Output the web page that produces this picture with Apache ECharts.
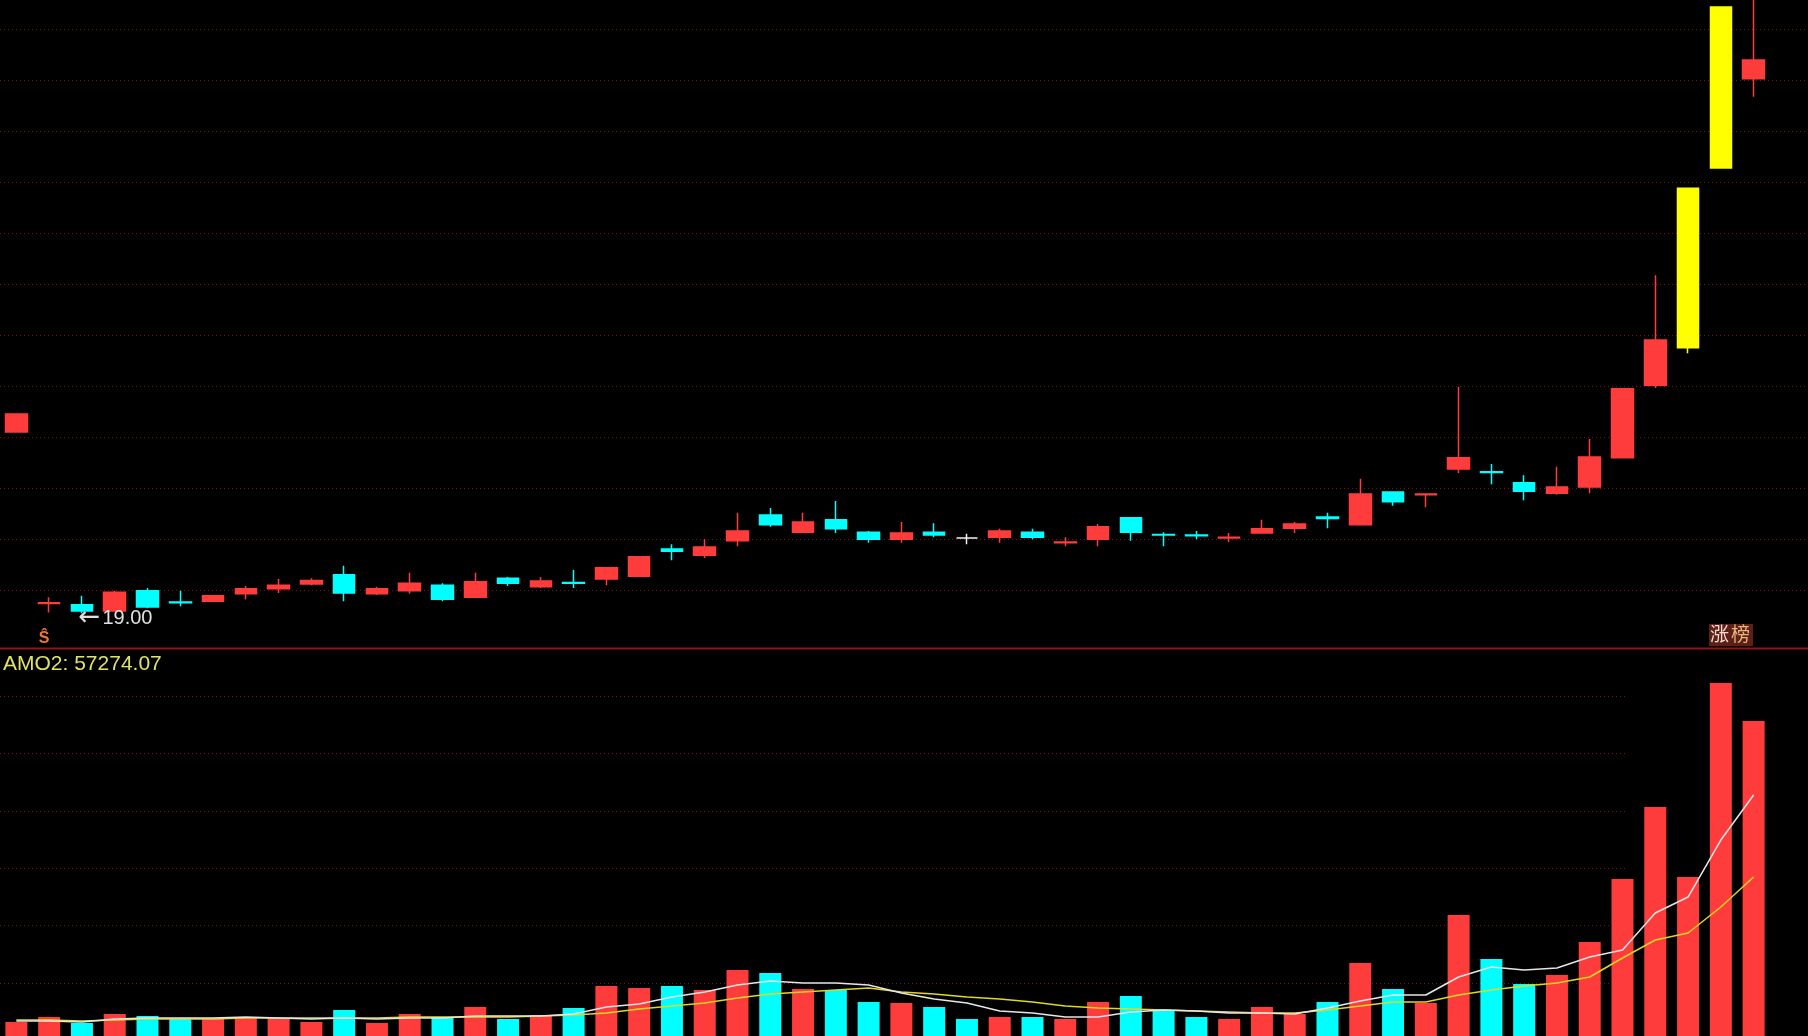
<!DOCTYPE html>
<html><head><meta charset="utf-8">
<script src="https://cdn.jsdelivr.net/npm/echarts@6/dist/echarts.min.js"></script>
<style>html,body{margin:0;padding:0;background:#000;overflow:hidden}#c{width:1808px;height:1036px}</style>
</head><body><div id="c"></div><script>
const categories = ['01','02','03','04','05','06','07','08','09','10','11','12','13','14','15','16','17','18','19','20','21','22','23','24','25','26','27','28','29','30','31','32','33','34','35','36','37','38','39','40','41','42','43','44','45','46','47','48','49','50','51','52','53','54'];
const opens  = [21.60,19.14,19.12,19.03,19.32,19.16,19.17,19.28,19.35,19.42,19.55,19.28,19.32,19.40,19.23,19.50,19.38,19.44,19.49,19.53,19.92,19.83,20.04,20.41,20.16,20.34,20.16,20.06,20.16,20.08,20.09,20.16,20.01,20.06,20.37,20.13,20.12,20.08,20.15,20.22,20.38,20.27,20.74,20.70,21.07,21.03,20.87,20.72,20.81,21.23,22.27,22.81,25.39,26.67];
const closes = [21.86,19.15,19.03,19.30,19.09,19.15,19.25,19.35,19.40,19.47,19.29,19.35,19.43,19.20,19.45,19.43,19.46,19.43,19.65,19.81,19.89,19.95,20.18,20.27,20.31,20.21,20.06,20.15,20.12,20.08,20.18,20.09,20.02,20.24,20.16,20.12,20.11,20.09,20.21,20.28,20.36,20.71,20.60,20.71,21.23,21.02,20.75,20.81,21.24,22.22,22.92,25.10,27.70,26.94];
const lows   = [21.60,19.01,19.00,19.03,19.07,19.10,19.16,19.20,19.29,19.40,19.17,19.26,19.28,19.17,19.22,19.39,19.36,19.36,19.40,19.52,19.76,19.79,19.96,20.24,20.15,20.15,20.01,20.01,20.09,19.99,20.01,20.06,19.96,19.96,20.04,19.96,20.06,20.02,20.14,20.15,20.22,20.27,20.54,20.52,21.01,20.85,20.62,20.70,20.72,21.23,22.23,22.73,25.39,26.41];
const highs  = [21.87,19.23,19.25,19.32,19.36,19.32,19.26,19.39,19.49,19.50,19.68,19.38,19.58,19.43,19.58,19.52,19.52,19.62,19.66,19.82,19.99,20.06,20.44,20.51,20.44,20.61,20.18,20.31,20.29,20.14,20.21,20.21,20.09,20.28,20.38,20.16,20.18,20.15,20.34,20.31,20.44,20.93,20.74,20.71,22.25,21.14,20.98,21.10,21.50,22.23,23.85,25.10,27.71,27.80];
const amounts = [2550,3450,2360,4000,3640,3090,3090,3450,3270,2550,4730,2360,4000,3450,5270,3090,3820,5090,9090,8730,9090,8360,12000,11450,8550,8360,6180,6000,5270,3090,3450,3450,3090,6180,7270,4730,3450,3090,5270,4000,6180,13270,8550,6000,22000,14000,9450,11090,17090,28540,41630,28910,64180,57274.07];
const ma5  = [2730,2730,2550,3090,3270,3270,3270,3450,3270,3090,3270,3090,3270,3270,3640,3640,3640,4000,5270,5820,7090,8000,9270,10000,9640,9640,9270,7820,6730,6000,4550,4180,3450,3450,4360,4730,4550,4180,4180,4000,5090,6360,7450,7450,10730,12540,12000,12360,14360,15640,22360,25270,35630,43810];
const ma10 = [2910,2910,2730,2910,3090,3090,3090,3270,3270,3270,3270,3270,3450,3450,3450,3450,3640,3820,4180,4910,5450,6000,6910,7640,8000,8360,8730,8000,7640,7090,6730,6180,5450,5090,4910,4730,4550,4360,4180,4180,4730,5450,6180,6180,7450,8360,9090,9640,10730,14180,17450,18730,23450,28910];
const highlightDays = [51,52];

const RED='#FF3C3C', CYAN='#00FFFF', WHITE='#F2F2F2', YELLOW='#FFFF00';
const GRIDC='#6a1818';

const candleData = categories.map((_, i) => {
  const o = opens[i], c = closes[i];
  let col = c > o ? RED : (c < o ? CYAN : WHITE);
  if (highlightDays.indexOf(i) >= 0) col = YELLOW;
  return {value:[o, c, lows[i], highs[i]], itemStyle:{color:col, color0:col, borderColor:col, borderColor0:col}};
});
const volData = categories.map((_, i) => {
  const o = opens[i], c = closes[i];
  let up = c > o ? true : (c < o ? false : (i > 0 ? c >= closes[i-1] : true));
  return {value: amounts[i], itemStyle:{color: up ? RED : CYAN}};
});

const chart = echarts.init(document.getElementById('c'), null, {renderer:'canvas'});
const hiddenAxis = (gi) => ({type:'value', gridIndex:gi, show:false, min:0, max:1});
const decorY = (gi, n) => ({type:'value', gridIndex:gi, min:0, max:n, interval:1,
  axisLine:{show:false}, axisTick:{show:false}, axisLabel:{show:false},
  splitLine:{show:true, lineStyle:{color:GRIDC, type:[1,3], width:1}}});

chart.setOption({
  backgroundColor:'#000',
  animation:false,
  title:{text:'AMO2: 57274.07', left:3, top:654, padding:0,
    textStyle:{color:'#E2E26A', fontSize:21, fontWeight:'normal', fontFamily:'Liberation Sans'}},
  grid:[
    {left:0, right:38, top:0, height:648},
    {left:0, right:0, top:29, height:561},
    {left:0, right:38, top:650, height:386},
    {left:0, right:183, top:696, height:287}
  ],
  xAxis:[
    {type:'category', gridIndex:0, data:categories, boundaryGap:true,
      axisLine:{show:false}, axisTick:{show:false}, axisLabel:{show:false}, splitLine:{show:false}},
    hiddenAxis(1),
    {type:'category', gridIndex:2, data:categories, boundaryGap:true, show:false},
    hiddenAxis(3)
  ],
  yAxis:[
    {type:'value', gridIndex:0, min:18.5, max:27.8, show:false},
    decorY(1, 11),
    {type:'value', gridIndex:2, min:0, max:70175, show:false},
    decorY(3, 5)
  ],
  graphic:[
    {type:'line', shape:{x1:0, y1:648.5, x2:1808, y2:648.5}, style:{stroke:'#8c1616', lineWidth:2}, z:3},
    {type:'rect', left:1709, top:624, shape:{width:44, height:22}, style:{fill:'#5c2016'}, z:10},
    {type:'text', left:1710, top:624, style:{text:'涨', fill:'#F4D8D2', font:'19px "Noto Sans CJK SC"'}, z:11},
    {type:'text', left:1731, top:624, style:{text:'榜', fill:'#E8B47C', font:'19px "Noto Sans CJK SC"'}, z:11}
  ],
  series:[
    {type:'candlestick', xAxisIndex:0, yAxisIndex:0, data:candleData, barWidth:22,
      itemStyle:{borderWidth:1.5},
      markPoint:{symbol:'rect', symbolSize:1, itemStyle:{color:'rgba(0,0,0,0)'}, animation:false,
        data:[
          {coord:[categories[2], lows[2]], label:{show:true, formatter:'{a|\u2190}{b|' + lows[2].toFixed(2) + '}', position:'right', distance:0, offset:[-4,5],
            rich:{a:{color:'#E0E0E0', fontSize:26, fontFamily:'DejaVu Sans', width:24}, b:{color:'#E0E0E0', fontSize:20, fontFamily:'Liberation Sans'}}}},
          {coord:[categories[1], lows[1]], label:{show:true, formatter:'\u015C', position:'inside', offset:[-5,26], color:'#E8783A', fontSize:16, fontWeight:'bold', fontFamily:'Liberation Sans'}}
        ]}
    },
    {type:'bar', xAxisIndex:2, yAxisIndex:2, data:volData, barWidth:22},
    {type:'line', xAxisIndex:2, yAxisIndex:2, data:ma5, symbol:'none', lineStyle:{color:'#E6E6E6', width:1.5}, z:5},
    {type:'line', xAxisIndex:2, yAxisIndex:2, data:ma10, symbol:'none', lineStyle:{color:'#E0D820', width:1.5}, z:4}
  ]
});
</script></body></html>
